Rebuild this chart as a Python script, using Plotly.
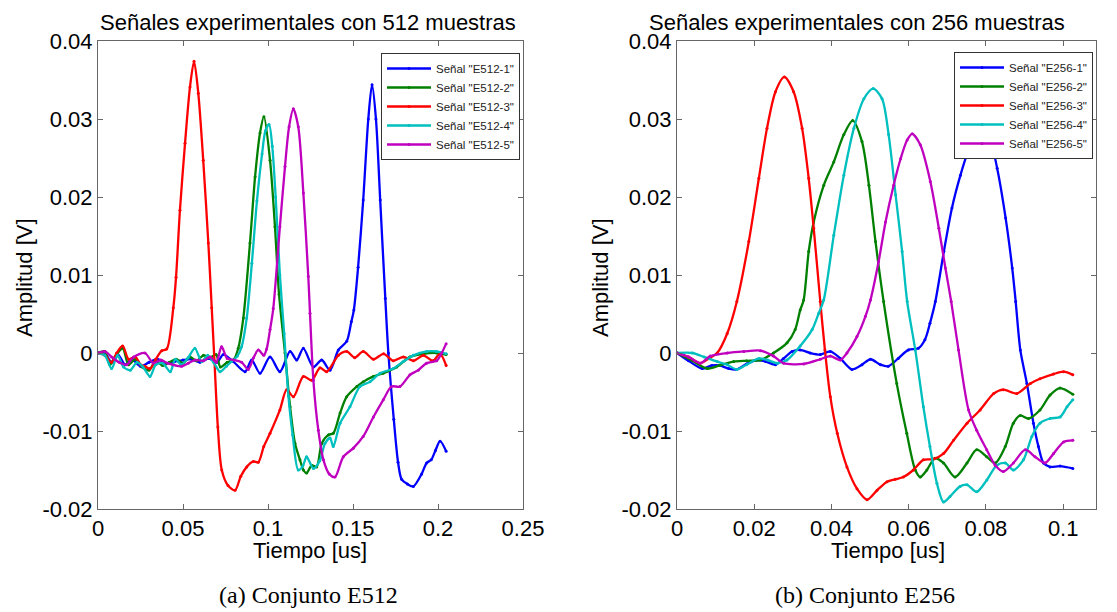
import plotly.graph_objects as go

W, H = 1117, 612

# ---------------- Data: set E512 (left) ----------------
e512_1_t = [0, 0.004, 0.008, 0.012, 0.016, 0.020, 0.025, 0.030, 0.035, 0.040, 0.045, 0.050, 0.055, 0.060,
            0.065, 0.070, 0.0737, 0.0796, 0.0865, 0.0904, 0.0953, 0.1012, 0.107, 0.113, 0.1169, 0.1208,
            0.1267, 0.1316, 0.1365, 0.1414, 0.1463, 0.149, 0.1505, 0.153, 0.156, 0.159, 0.1612, 0.1635,
            0.166, 0.169, 0.1708, 0.174, 0.1765, 0.1786, 0.182, 0.1855, 0.1904, 0.1933, 0.196, 0.1985,
            0.2012, 0.2048]
e512_1_v = [0, 0, -0.0012, -0.0003, -0.0015, -0.0008, -0.0017, -0.0012, -0.0008, -0.0013, -0.0011, -0.0009,
            -0.0008, -0.0012, -0.0007, -0.0012, -0.0002, -0.0011, -0.0024, -0.0009, -0.0026, -0.0005,
            -0.0024, 0.0002, -0.0009, 0.0006, -0.0018, -0.0009, -0.0022, 0.0004, 0.0015, 0.0040, 0.0055,
            0.0110, 0.0196, 0.0300, 0.0344, 0.0300, 0.0196, 0.0070, 0.0, -0.0085, -0.0140, -0.0162,
            -0.0168, -0.0171, -0.0155, -0.0141, -0.0137, -0.0125, -0.0113, -0.0126]

e512_2_t = [0, 0.004, 0.007, 0.010, 0.0145, 0.018, 0.022, 0.026, 0.030, 0.034, 0.038, 0.042, 0.046, 0.050,
            0.054, 0.058, 0.062, 0.066, 0.0695, 0.072, 0.076, 0.080, 0.0825, 0.0855, 0.0894, 0.0924, 0.0953,
            0.0976, 0.1012, 0.1041, 0.1065, 0.110, 0.113, 0.1159, 0.1188, 0.1208, 0.1227, 0.1257, 0.1286,
            0.1316, 0.1355, 0.1384, 0.1424, 0.1463, 0.1522, 0.156, 0.162, 0.1678, 0.1757, 0.1835, 0.1914,
            0.1992, 0.2048]
e512_2_v = [0, 0.0002, -0.0015, -0.0005, 0.0006, -0.0015, -0.0008, -0.0018, -0.0022, -0.0010, -0.0016,
            -0.0012, -0.0008, -0.0013, -0.0005, -0.0010, -0.0003, -0.0006, -0.0002, -0.0018, -0.0012,
            -0.0008, 0.0006, 0.0045, 0.0141, 0.0226, 0.0282, 0.0303, 0.0247, 0.0162, 0.0075, 0.0, -0.0069,
            -0.0116, -0.0137, -0.0150, -0.0154, -0.0144, -0.0146, -0.0116, -0.0105, -0.0103, -0.0077,
            -0.0056, -0.0043, -0.0037, -0.0030, -0.0026, -0.0018, -0.0005, -0.0001, 0.0, -0.0002]

e512_3_t = [0, 0.004, 0.008, 0.011, 0.0145, 0.018, 0.022, 0.025, 0.0276, 0.0306, 0.034, 0.0375, 0.0404,
            0.0443, 0.0459, 0.0482, 0.0512, 0.0541, 0.0565, 0.059, 0.0619, 0.0649, 0.0669, 0.0685, 0.0705,
            0.0728, 0.0765, 0.0806, 0.084, 0.0875, 0.0914, 0.0943, 0.0975, 0.1012, 0.107, 0.111, 0.115,
            0.1208, 0.1257, 0.1306, 0.1345, 0.1414, 0.1463, 0.151, 0.156, 0.162, 0.168, 0.1737, 0.1796,
            0.1855, 0.1914, 0.197, 0.2012, 0.2048]
e512_3_v = [0, -0.0003, -0.0012, 0.0, 0.0009, -0.0008, -0.0005, -0.0015, -0.0017, -0.0020, -0.0008, 0.0003,
            0.0005, 0.0058, 0.0097, 0.0183, 0.0269, 0.0341, 0.0374, 0.0333, 0.0247, 0.0141, 0.0058, -0.0010,
            -0.0095, -0.0150, -0.0170, -0.0176, -0.0158, -0.0146, -0.0139, -0.0140, -0.0120, -0.0103,
            -0.0073, -0.0047, -0.0056, -0.0030, -0.0035, -0.0019, -0.0024, -0.0003, 0.0002, -0.0006,
            0.0002, -0.0008, -0.0001, -0.0010, -0.0005, -0.0010, -0.0003, -0.0010, -0.0001, -0.0016]

e512_4_t = [0, 0.004, 0.008, 0.0115, 0.015, 0.019, 0.023, 0.0265, 0.0306, 0.034, 0.038, 0.0425, 0.0455,
            0.049, 0.053, 0.057, 0.061, 0.0645, 0.068, 0.0718, 0.0755, 0.0785, 0.082, 0.0845, 0.0875,
            0.0905, 0.0935, 0.0965, 0.0985, 0.1006, 0.1025, 0.1045, 0.107, 0.1095, 0.112, 0.1145, 0.1178,
            0.1205, 0.1227, 0.1267, 0.1305, 0.1335, 0.1365, 0.1384, 0.1424, 0.1482, 0.1541, 0.160, 0.1659,
            0.1737, 0.1796, 0.1855, 0.1933, 0.199, 0.2048]
e512_4_v = [0, -0.0003, -0.0020, -0.0003, -0.0018, -0.0022, -0.0012, -0.0018, -0.0030, -0.0015, -0.0013,
            -0.0024, -0.0008, -0.0015, -0.0006, 0.0006, -0.0011, -0.0003, -0.0012, -0.0024, -0.0017,
            -0.0011, -0.0004, 0.0008, 0.0045, 0.0115, 0.0195, 0.0255, 0.0285, 0.0293, 0.0265, 0.0200,
            0.0100, 0.0025, -0.0055, -0.0105, -0.0150, -0.0145, -0.0133, -0.0148, -0.0138, -0.0116,
            -0.0109, -0.0120, -0.0090, -0.0069, -0.0043, -0.0037, -0.0026, -0.0020, -0.0011, -0.0003,
            0.0002, 0.0002, -0.0001]

e512_5_t = [0, 0.004, 0.008, 0.0125, 0.0169, 0.021, 0.0276, 0.0325, 0.037, 0.041, 0.0492, 0.0531, 0.0571,
            0.062, 0.066, 0.0695, 0.0727, 0.076, 0.080, 0.0845, 0.0884, 0.0915, 0.0943, 0.0975, 0.0992,
            0.1012, 0.1031, 0.107, 0.110, 0.1124, 0.1149, 0.1178, 0.1208, 0.1237, 0.1247, 0.1267, 0.1296,
            0.1326, 0.136, 0.1394, 0.1443, 0.1502, 0.156, 0.162, 0.1678, 0.1727, 0.1776, 0.1835, 0.1884,
            0.1933, 0.1992, 0.2022, 0.2048]
e512_5_v = [0, 0.0002, -0.0005, -0.0012, -0.0015, -0.0005, 0.0, -0.0013, -0.0009, -0.0013, -0.0017,
            -0.0013, -0.0009, -0.0010, -0.0005, -0.0012, 0.0008, -0.0007, -0.0009, -0.0012, -0.0021,
            -0.0006, 0.0004, -0.0003, 0.0005, 0.0030, 0.0057, 0.0162, 0.0239, 0.0290, 0.0313, 0.0290,
            0.0205, 0.0098, 0.0051, -0.0035, -0.0099, -0.0137, -0.0155, -0.0159, -0.0133, -0.0122,
            -0.0107, -0.0082, -0.0060, -0.0043, -0.0043, -0.0028, -0.0022, -0.0013, -0.0010, 0.0, 0.0012]

# ---------------- Data: set E256 (right) ----------------
e256_1_t = [0, 0.003, 0.0065, 0.009, 0.011, 0.0134, 0.0155, 0.018, 0.0207, 0.023, 0.0255, 0.0276, 0.0298,
            0.0319, 0.0345, 0.0371, 0.0397, 0.0423, 0.0453, 0.0479, 0.0501, 0.0527, 0.0547, 0.0573, 0.0599,
            0.0625, 0.0642, 0.0655, 0.0669, 0.0691, 0.0712, 0.0734, 0.0756, 0.0773, 0.0788, 0.0807, 0.0829,
            0.0851, 0.0868, 0.0877, 0.0889, 0.0906, 0.0923, 0.0936, 0.0949, 0.0966, 0.0992, 0.1025]
e256_1_v = [0, -0.0010, -0.0020, -0.0016, -0.0016, -0.0020, -0.0021, -0.0014, -0.0009, -0.0011, -0.0015,
            -0.0007, 0.0002, 0.0004, 0.0, -0.0002, 0.0002, -0.0007, -0.0021, -0.0015, -0.0008, -0.0015,
            -0.0017, -0.0007, 0.0004, 0.0006, 0.0017, 0.0038, 0.0066, 0.0130, 0.0186, 0.0228, 0.0262,
            0.0282, 0.0289, 0.0280, 0.0237, 0.0173, 0.0109, 0.0066, 0.0004, -0.0039, -0.0090, -0.0120,
            -0.0141, -0.0146, -0.0145, -0.0148]

e256_2_t = [0, 0.004, 0.0078, 0.011, 0.0147, 0.018, 0.0216, 0.025, 0.0285, 0.0306, 0.0319, 0.0328, 0.0341,
            0.0354, 0.038, 0.0406, 0.0432, 0.0455, 0.0479, 0.0497, 0.0514, 0.0535, 0.0569, 0.0595, 0.0617,
            0.063, 0.0647, 0.0668, 0.069, 0.072, 0.0751, 0.0776, 0.0802, 0.0824, 0.085, 0.0871, 0.0889,
            0.091, 0.094, 0.0966, 0.0992, 0.1025]
e256_2_v = [0, -0.0010, -0.0020, -0.0016, -0.0011, -0.0010, -0.0009, 0.0, 0.0013, 0.0030, 0.0055, 0.0068,
            0.0130, 0.0168, 0.0215, 0.0245, 0.0280, 0.0298, 0.0271, 0.0215, 0.0143, 0.0066, -0.0039,
            -0.0103, -0.0150, -0.0159, -0.0150, -0.0135, -0.0141, -0.0159, -0.0141, -0.0124, -0.0133,
            -0.0141, -0.0120, -0.0090, -0.0080, -0.0084, -0.0073, -0.0054, -0.0045, -0.0053]

e256_3_t = [0, 0.003, 0.006, 0.0086, 0.0104, 0.013, 0.0155, 0.0186, 0.0212, 0.0233, 0.0255, 0.0278, 0.0302,
            0.0324, 0.0341, 0.0354, 0.0371, 0.0383, 0.0397, 0.0415, 0.044, 0.0466, 0.0492, 0.0518, 0.0544,
            0.0565, 0.0586, 0.0612, 0.0638, 0.0664, 0.069, 0.0716, 0.0751, 0.0785, 0.082, 0.0845, 0.088,
            0.0915, 0.094, 0.0975, 0.1001, 0.1025]
e256_3_v = [0, -0.0005, -0.0013, -0.0006, 0.0, 0.0025, 0.0066, 0.0143, 0.0224, 0.0288, 0.0335, 0.0354,
            0.0335, 0.0288, 0.0224, 0.0160, 0.0066, 0.0004, -0.0056, -0.0103, -0.0146, -0.0174, -0.0188,
            -0.0176, -0.0165, -0.0162, -0.0159, -0.0150, -0.0137, -0.0136, -0.0129, -0.0112, -0.0090,
            -0.0073, -0.0052, -0.0047, -0.0052, -0.0039, -0.0033, -0.0027, -0.0024, -0.0028]

e256_4_t = [0, 0.004, 0.007, 0.0104, 0.013, 0.0155, 0.018, 0.0212, 0.0235, 0.0259, 0.0285, 0.0319, 0.035,
            0.0367, 0.038, 0.0406, 0.0432, 0.0458, 0.0484, 0.0508, 0.0531, 0.0548, 0.0566, 0.0583, 0.0596,
            0.0617, 0.0638, 0.0655, 0.0673, 0.069, 0.0707, 0.0733, 0.0751, 0.0776, 0.0802, 0.0828, 0.085,
            0.0871, 0.0897, 0.0919, 0.094, 0.0966, 0.0992, 0.101, 0.1025]
e256_4_v = [0, 0.0, -0.0005, -0.0011, -0.0015, -0.0021, -0.0015, -0.0007, -0.0009, -0.0013, -0.0009, 0.0009,
            0.0030, 0.0051, 0.0068, 0.0151, 0.0228, 0.0288, 0.0326, 0.0339, 0.0326, 0.0280, 0.0203, 0.0130,
            0.0066, 0.0004, -0.0069, -0.0120, -0.0167, -0.0191, -0.0184, -0.0171, -0.0169, -0.0178,
            -0.0163, -0.0144, -0.0141, -0.0150, -0.0137, -0.0107, -0.0090, -0.0084, -0.0082, -0.0069,
            -0.0060]

e256_5_t = [0, 0.003, 0.006, 0.0086, 0.013, 0.0173, 0.0216, 0.025, 0.0276, 0.0328, 0.0371, 0.0397, 0.0423,
            0.044, 0.0466, 0.0488, 0.0501, 0.0522, 0.054, 0.0561, 0.0579, 0.0596, 0.0609, 0.063, 0.0656,
            0.0678, 0.0695, 0.071, 0.0729, 0.0755, 0.0776, 0.0802, 0.0824, 0.0845, 0.0871, 0.0902, 0.0927,
            0.0953, 0.0975, 0.1001, 0.1025]
e256_5_v = [0, -0.0005, -0.0013, -0.0004, 0.0, 0.0002, 0.0003, -0.0004, -0.0013, -0.0014, -0.0008, -0.0004,
            -0.0009, 0.0, 0.0021, 0.0047, 0.0068, 0.0117, 0.0168, 0.0215, 0.0249, 0.0273, 0.0281, 0.0267,
            0.0220, 0.0160, 0.0109, 0.0066, 0.0004, -0.0073, -0.0099, -0.0124, -0.0144, -0.0152, -0.0141,
            -0.0124, -0.0133, -0.0141, -0.0129, -0.0114, -0.0112]

names_512 = ['Señal "E512-1"', 'Señal "E512-2"', 'Señal "E512-3"', 'Señal "E512-4"', 'Señal "E512-5"']
names_256 = ['Señal "E256-1"', 'Señal "E256-2"', 'Señal "E256-3"', 'Señal "E256-4"', 'Señal "E256-5"']
colors = ["#0000FF", "#008000", "#FF0000", "#00BFBF", "#BF00BF"]

x1_ticks = [0, 0.05, 0.1, 0.15, 0.2, 0.25]
x1_ticktext = ["0", "0.05", "0.1", "0.15", "0.2", "0.25"]
x2_ticks = [0, 0.02, 0.04, 0.06, 0.08, 0.1]
x2_ticktext = ["0", "0.02", "0.04", "0.06", "0.08", "0.1"]
y_ticks = [-0.02, -0.01, 0, 0.01, 0.02, 0.03, 0.04]
y_ticktext = ["-0.02", "-0.01", "0", "0.01", "0.02", "0.03", "0.04"]

titles = ["Señales experimentales con 512 muestras", "Señales experimentales con 256 muestras"]
captions = ["(a) Conjunto E512", "(b) Conjunto E256"]

# ---------------- Figure ----------------
SANS = "Liberation Sans, Arial, sans-serif"
SERIF = "Liberation Serif, Times New Roman, serif"
FS = 22


def px_x(p):
    return p / W


def px_y(p):
    return 1 - p / H


fig = go.Figure()

left = [(e512_1_t, e512_1_v), (e512_2_t, e512_2_v), (e512_3_t, e512_3_v), (e512_4_t, e512_4_v), (e512_5_t, e512_5_v)]
right = [(e256_1_t, e256_1_v), (e256_2_t, e256_2_v), (e256_3_t, e256_3_v), (e256_4_t, e256_4_v), (e256_5_t, e256_5_v)]

for (t, v), name, c in zip(left, names_512, colors):
    fig.add_trace(go.Scatter(x=t, y=v, name=name, mode="lines+markers",
                             line=dict(color=c, width=2.3, shape="spline", smoothing=0.8),
                             marker=dict(color=c, size=3), xaxis="x", yaxis="y", legend="legend"))
for (t, v), name, c in zip(right, names_256, colors):
    fig.add_trace(go.Scatter(x=t, y=v, name=name, mode="lines+markers",
                             line=dict(color=c, width=2.3, shape="spline", smoothing=0.8),
                             marker=dict(color=c, size=3), xaxis="x2", yaxis="y2", legend="legend2"))

axis_common = dict(showline=True, mirror="ticks", linecolor="#666666", linewidth=1,
                   ticks="inside", ticklen=5, tickcolor="#666666", showgrid=False, zeroline=False,
                   automargin=False, tickfont=dict(family=SANS, size=FS, color="black"))

y_dom = [px_y(509), px_y(41)]
legend_common = dict(xanchor="right", yanchor="top", bgcolor="white", bordercolor="#333333", borderwidth=1,
                     font=dict(family=SANS, size=11.5, color="#222222"), tracegroupgap=0, itemwidth=44)
fig.update_layout(
    width=W, height=H, autosize=False,
    margin=dict(l=0, r=0, t=0, b=0, pad=0, autoexpand=False),
    paper_bgcolor="white", plot_bgcolor="white",
    font=dict(family=SANS, color="black"),
    xaxis=dict(domain=[px_x(98), px_x(523)], range=[0, 0.25], tickvals=x1_ticks, ticktext=x1_ticktext,
               anchor="y", **axis_common),
    yaxis=dict(domain=y_dom, range=[-0.02, 0.04], tickvals=y_ticks, ticktext=y_ticktext,
               anchor="x", **axis_common),
    xaxis2=dict(domain=[px_x(677), px_x(1096)], range=[0, 0.1085], tickvals=x2_ticks, ticktext=x2_ticktext,
                anchor="y2", **axis_common),
    yaxis2=dict(domain=y_dom, range=[-0.02, 0.04], tickvals=y_ticks, ticktext=y_ticktext,
                anchor="x2", **axis_common),
    legend=dict(x=px_x(520), y=px_y(53), **legend_common),
    legend2=dict(x=px_x(1093), y=px_y(52), **legend_common),
    showlegend=True,
)

annotations = [
    dict(text=titles[0], x=px_x(308), y=px_y(23), xref="paper", yref="paper", showarrow=False,
         xanchor="center", yanchor="middle", font=dict(family=SANS, size=FS)),
    dict(text=titles[1], x=px_x(857), y=px_y(23), xref="paper", yref="paper", showarrow=False,
         xanchor="center", yanchor="middle", font=dict(family=SANS, size=FS)),
    dict(text="Tiempo [us]", x=px_x(310), y=px_y(550), xref="paper", yref="paper", showarrow=False,
         xanchor="center", yanchor="middle", font=dict(family=SANS, size=FS)),
    dict(text="Tiempo [us]", x=px_x(888), y=px_y(550), xref="paper", yref="paper", showarrow=False,
         xanchor="center", yanchor="middle", font=dict(family=SANS, size=FS)),
    dict(text="Amplitud [V]", x=px_x(25), y=px_y(278), xref="paper", yref="paper", showarrow=False,
         textangle=-90, xanchor="center", yanchor="middle", font=dict(family=SANS, size=FS)),
    dict(text="Amplitud [V]", x=px_x(601), y=px_y(278), xref="paper", yref="paper", showarrow=False,
         textangle=-90, xanchor="center", yanchor="middle", font=dict(family=SANS, size=FS)),
    dict(text=captions[0], x=px_x(308), y=px_y(595), xref="paper", yref="paper", showarrow=False,
         xanchor="center", yanchor="middle", font=dict(family=SERIF, size=24)),
    dict(text=captions[1], x=px_x(865), y=px_y(595), xref="paper", yref="paper", showarrow=False,
         xanchor="center", yanchor="middle", font=dict(family=SERIF, size=24)),
]
fig.update_layout(annotations=annotations)

# remove the browser's default 8px page margin so the 1117x612 figure fills the window exactly
fig.write_html("out.html", config={"displayModeBar": False, "staticPlot": False},
               post_script="document.body.style.margin='0';")
